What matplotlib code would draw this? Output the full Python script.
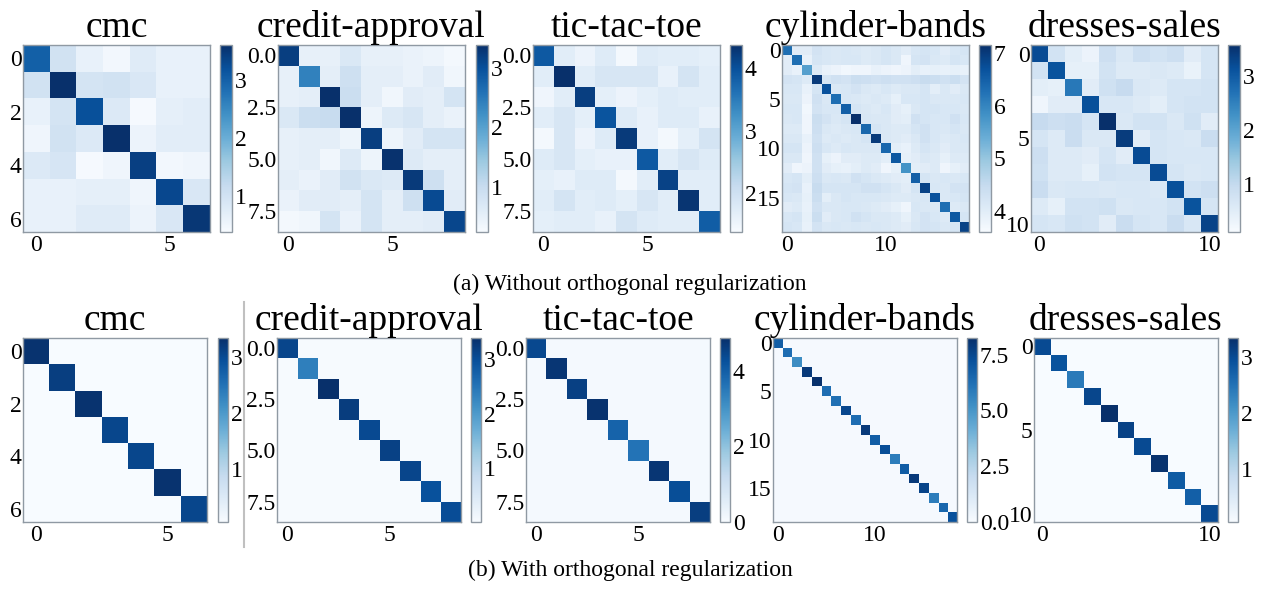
import matplotlib
matplotlib.use("Agg")
import matplotlib.pyplot as plt
from matplotlib.lines import Line2D
import numpy as np

plt.rcParams['font.family'] = ['Liberation Serif', 'DejaVu Serif']

names = ['cmc', 'credit-approval', 'tic-tac-toe', 'cylinder-bands', 'dresses-sales']

# (a) without orthogonal regularization
cmc_a = [
    [3.00, 1.00, 0.60, 0.45, 0.75, 0.60, 0.60],
    [1.00, 3.60, 0.95, 1.00, 0.85, 0.60, 0.60],
    [0.60, 0.95, 3.20, 0.80, 0.40, 0.65, 0.70],
    [0.50, 1.00, 0.80, 3.60, 0.55, 0.70, 0.70],
    [0.80, 0.90, 0.40, 0.50, 3.40, 0.45, 0.50],
    [0.60, 0.60, 0.65, 0.65, 0.50, 3.30, 0.85],
    [0.60, 0.60, 0.75, 0.75, 0.55, 0.85, 3.50],
]
credit_a = [
    [3.20, 0.50, 0.50, 0.70, 0.50, 0.50, 0.45, 0.40, 0.30],
    [0.50, 2.40, 0.55, 0.90, 0.55, 0.55, 0.45, 0.60, 0.35],
    [0.50, 0.55, 3.38, 0.95, 0.55, 0.35, 0.60, 0.55, 0.80],
    [0.70, 0.95, 1.00, 3.38, 0.40, 0.65, 0.75, 0.55, 0.45],
    [0.50, 0.55, 0.55, 0.40, 3.20, 0.40, 0.60, 0.80, 0.80],
    [0.50, 0.55, 0.35, 0.65, 0.40, 3.35, 0.65, 0.55, 0.55],
    [0.55, 0.45, 0.60, 0.85, 0.70, 0.65, 3.25, 0.90, 0.55],
    [0.45, 0.60, 0.60, 0.55, 0.80, 0.55, 0.90, 3.05, 0.60],
    [0.30, 0.35, 0.80, 0.45, 0.80, 0.55, 0.55, 0.60, 3.10],
]
ttt_a = [
    [3.90, 1.70, 1.55, 1.75, 1.45, 1.75, 1.70, 1.70, 1.65],
    [1.70, 4.37, 1.70, 1.85, 1.85, 1.85, 1.60, 1.90, 1.70],
    [1.50, 1.70, 4.20, 1.65, 1.55, 1.65, 1.75, 1.70, 1.70],
    [1.70, 1.85, 1.65, 3.95, 1.75, 1.60, 1.75, 1.75, 1.60],
    [1.45, 1.85, 1.55, 1.75, 4.25, 1.60, 1.45, 1.65, 1.90],
    [1.75, 1.85, 1.65, 1.60, 1.60, 3.90, 1.70, 1.85, 1.75],
    [1.65, 1.60, 1.75, 1.75, 1.45, 1.70, 4.15, 1.70, 1.70],
    [1.70, 1.90, 1.70, 1.75, 1.65, 1.85, 1.70, 4.30, 1.70],
    [1.65, 1.70, 1.70, 1.60, 1.90, 1.75, 1.70, 1.70, 3.85],
]
cyl_a = [
    [6.30, 4.00, 4.00, 4.25, 4.15, 4.10, 4.15, 4.10, 4.05, 4.10, 4.20, 4.10, 4.00, 4.15, 4.20, 4.15, 4.00, 4.15, 4.20],
    [4.00, 6.30, 3.85, 4.20, 4.15, 4.10, 4.15, 4.15, 4.05, 4.10, 4.20, 4.10, 3.75, 4.20, 4.25, 4.10, 4.05, 4.20, 4.15],
    [4.00, 3.85, 5.60, 4.05, 3.85, 3.80, 3.70, 3.75, 3.75, 3.85, 3.80, 3.75, 3.80, 3.95, 3.85, 3.90, 3.85, 3.90, 3.85],
    [4.25, 4.20, 4.05, 7.00, 4.20, 4.30, 4.25, 4.40, 4.35, 4.30, 4.35, 4.30, 4.30, 4.35, 4.45, 4.40, 4.30, 4.40, 4.25],
    [4.15, 4.15, 3.85, 4.20, 6.70, 4.10, 4.15, 4.25, 4.10, 4.05, 4.15, 4.05, 4.10, 4.10, 4.20, 3.95, 4.10, 4.00, 4.10],
    [4.10, 4.10, 3.80, 4.30, 4.10, 6.30, 4.15, 4.10, 4.05, 4.10, 4.05, 3.90, 4.15, 4.15, 4.20, 4.10, 4.10, 4.10, 4.15],
    [4.15, 4.15, 3.70, 4.25, 4.15, 4.15, 6.50, 4.20, 4.10, 4.05, 4.15, 4.00, 3.90, 4.10, 4.20, 4.20, 4.15, 4.15, 4.10],
    [4.10, 4.15, 3.75, 4.40, 4.25, 4.10, 4.20, 7.15, 4.15, 4.10, 4.10, 4.00, 3.95, 4.30, 4.20, 4.15, 4.15, 4.30, 4.15],
    [4.05, 4.05, 3.75, 4.35, 4.10, 4.05, 4.10, 4.15, 6.40, 4.20, 4.10, 4.05, 4.05, 4.20, 4.30, 4.15, 4.10, 4.20, 4.10],
    [4.10, 4.10, 3.85, 4.30, 4.05, 4.10, 4.05, 4.10, 4.20, 7.00, 4.10, 4.05, 4.00, 4.10, 4.30, 4.15, 4.05, 4.10, 4.15],
    [4.20, 4.20, 3.80, 4.35, 4.15, 4.05, 4.15, 4.10, 4.10, 4.10, 6.40, 3.95, 3.85, 4.05, 4.20, 4.10, 4.00, 4.10, 4.10],
    [4.10, 4.10, 3.75, 4.30, 3.90, 3.80, 4.00, 4.00, 4.05, 4.05, 3.95, 6.60, 3.90, 4.00, 4.10, 4.05, 3.90, 4.05, 4.05],
    [4.00, 3.75, 3.80, 4.30, 4.00, 3.90, 3.85, 3.95, 4.05, 4.00, 3.75, 3.90, 5.80, 3.95, 4.00, 4.05, 3.75, 3.90, 4.00],
    [4.15, 4.20, 3.95, 4.35, 4.10, 4.15, 4.10, 4.30, 4.20, 4.10, 4.05, 4.00, 3.95, 6.50, 4.20, 4.10, 4.15, 4.10, 4.15],
    [4.20, 4.25, 3.85, 4.45, 4.20, 4.20, 4.20, 4.20, 4.30, 4.30, 4.20, 4.10, 4.00, 4.20, 6.90, 4.15, 4.10, 4.25, 4.25],
    [4.15, 4.10, 3.90, 4.40, 3.95, 4.10, 4.20, 4.15, 4.15, 4.15, 4.10, 4.05, 4.05, 4.10, 4.15, 6.70, 4.10, 4.15, 4.20],
    [4.00, 4.05, 3.85, 4.30, 4.10, 4.10, 4.15, 4.15, 4.10, 4.05, 4.00, 3.90, 3.75, 4.15, 4.10, 4.10, 6.30, 4.05, 4.10],
    [4.15, 4.20, 3.90, 4.40, 4.00, 4.10, 4.15, 4.30, 4.20, 4.10, 4.10, 4.05, 3.90, 4.10, 4.25, 4.15, 4.05, 6.60, 4.20],
    [4.20, 4.15, 3.85, 4.25, 4.10, 4.15, 4.10, 4.15, 4.10, 4.15, 4.10, 4.05, 4.00, 4.15, 4.25, 4.20, 4.10, 4.20, 6.90],
]
dress_a = [
    [3.20, 0.75, 0.45, 0.30, 0.85, 0.60, 0.85, 0.75, 0.85, 0.50, 0.70],
    [0.75, 3.10, 0.40, 0.40, 0.75, 0.55, 0.55, 0.60, 0.55, 0.35, 0.70],
    [0.45, 0.40, 2.60, 0.50, 0.80, 0.95, 0.60, 0.55, 0.70, 0.70, 0.75],
    [0.25, 0.50, 0.50, 3.15, 0.65, 0.65, 0.55, 0.45, 0.70, 0.75, 0.75],
    [0.95, 0.85, 0.90, 0.70, 3.57, 0.60, 0.75, 0.75, 0.60, 0.80, 0.50],
    [0.70, 0.55, 0.90, 0.60, 0.60, 3.40, 0.50, 0.70, 0.65, 0.60, 0.90],
    [0.85, 0.55, 0.55, 0.50, 0.70, 0.50, 3.20, 0.70, 0.65, 0.65, 0.65],
    [0.80, 0.55, 0.55, 0.40, 0.75, 0.70, 0.70, 3.20, 0.70, 0.60, 0.65],
    [0.90, 0.60, 0.65, 0.65, 0.60, 0.65, 0.65, 0.60, 3.15, 0.75, 0.85],
    [0.55, 0.40, 0.75, 0.75, 0.80, 0.60, 0.65, 0.65, 0.75, 3.10, 0.70],
    [0.70, 0.65, 0.80, 0.75, 0.50, 0.90, 0.70, 0.65, 0.90, 0.65, 3.30],
]
vmin_a = [0.37, 0.25, 1.38, 3.60, 0.11]
vmax_a = [3.60, 3.38, 4.37, 7.15, 3.57]

# (b) with orthogonal regularization: near-uniform off-diagonal, diagonal read per cell
diag_b = [
    [3.30, 3.15, 3.30, 3.05, 3.05, 3.30, 3.05],
    [3.10, 2.35, 3.38, 3.20, 3.05, 3.15, 3.10, 2.95, 3.00],
    [4.40, 4.75, 4.55, 4.80, 3.90, 3.60, 4.75, 4.30, 4.60],
    [6.80, 6.30, 5.30, 7.90, 8.20, 6.30, 6.20, 7.50, 6.30, 7.90,
     6.80, 7.30, 5.80, 6.80, 7.90, 7.60, 5.80, 6.50, 7.20],
    [3.00, 2.90, 2.40, 3.05, 3.34, 3.10, 3.00, 3.30, 2.80, 2.75, 3.00],
]
off_b = [0.07, 0.04, 0.06, 0.08, 0.07]
vmin_b = [0.06, 0.02, 0.0, 0.0, 0.06]
vmax_b = [3.34, 3.38, 4.87, 8.25, 3.34]

# tick labels as printed on the figure
x_ticks = [[0, 5], [0, 5], [0, 5], [0, 10], [0, 10]]
y_ticks = [[0, 2, 4, 6], [0, 2.5, 5, 7.5], [0, 2.5, 5, 7.5], [0, 5, 10, 15], [0, 5, 10]]
y_labels = [['0', '2', '4', '6'], ['0.0', '2.5', '5.0', '7.5'], ['0.0', '2.5', '5.0', '7.5'],
            ['0', '5', '10', '15'], ['0', '5', '10']]
cb_ticks_a = [[1, 2, 3], [1, 2, 3], [2, 3, 4], [4, 5, 6, 7], [1, 2, 3]]
cb_ticks_b = [[1, 2, 3], [1, 2, 3], [0, 2, 4], [0, 2.5, 5, 7.5], [1, 2, 3]]
cb_labels_b = [['1', '2', '3'], ['1', '2', '3'], ['0', '2', '4'],
               ['0.0', '2.5', '5.0', '7.5'], ['1', '2', '3']]

W, H = 1261, 589
fig = plt.figure(figsize=(W / 100, H / 100), dpi=100)

# left edges in pixels of the heatmaps and of their colorbars
ax_left_a = [23, 278, 533, 782, 1031]
cb_left_a = [220, 476, 730, 979, 1228]
ax_left_b = [23, 277, 526, 773, 1034]
cb_left_b = [218, 471, 720, 967, 1228]

spine_col = '#8f99a3'
FS = 17


def box(l, t, w, h):
    return [l / W, 1 - (t + h) / H, w / W, h / H]


def panel(i, mat, vmin, vmax, axl, cbl, top, size, cbw, cbt, cbl_txt):
    ax = fig.add_axes(box(axl, top, size, size))
    im = ax.imshow(np.array(mat), cmap='Blues', vmin=vmin, vmax=vmax,
                   interpolation='nearest', aspect='auto')
    ax.set_title(names[i], fontsize=27, pad=2)
    ax.set_xticks(x_ticks[i], [str(t) for t in x_ticks[i]])
    ax.set_yticks(y_ticks[i], y_labels[i])
    ax.tick_params(length=0, labelsize=FS)
    ax.tick_params(axis='x', pad=2)
    ax.tick_params(axis='y', pad=1)
    for s in ax.spines.values():
        s.set_color(spine_col)
        s.set_linewidth(1.0)
    cax = fig.add_axes(box(cbl, top, cbw, size))
    cb = fig.colorbar(im, cax=cax)
    cb.set_ticks(cbt, labels=cbl_txt)
    cb.ax.tick_params(length=0, labelsize=FS, pad=2)
    cb.outline.set_edgecolor(spine_col)
    cb.outline.set_linewidth(1.0)
    return ax


mats_a = [cmc_a, credit_a, ttt_a, cyl_a, dress_a]
for i in range(5):
    panel(i, mats_a[i], vmin_a[i], vmax_a[i], ax_left_a[i], cb_left_a[i], 45, 187, 12,
          cb_ticks_a[i], [str(t) for t in cb_ticks_a[i]])

for i in range(5):
    n = len(diag_b[i])
    m = np.full((n, n), off_b[i])
    np.fill_diagonal(m, diag_b[i])
    panel(i, m, vmin_b[i], vmax_b[i], ax_left_b[i], cb_left_b[i], 338, 184, 10,
          cb_ticks_b[i], cb_labels_b[i])

# separator between cmc and the rest in row (b)
fig.add_artist(Line2D([244 / W, 244 / W], [1 - 302 / H, 1 - 547 / H],
                      color='#c0c0c0', lw=1.5))

fig.text(630 / W, 1 - 284 / H, '(a) Without orthogonal regularization',
         ha='center', va='center', fontsize=17)
fig.text(630 / W, 1 - 570 / H, '(b) With orthogonal regularization',
         ha='center', va='center', fontsize=17)

fig.savefig('out.png', dpi=100)
